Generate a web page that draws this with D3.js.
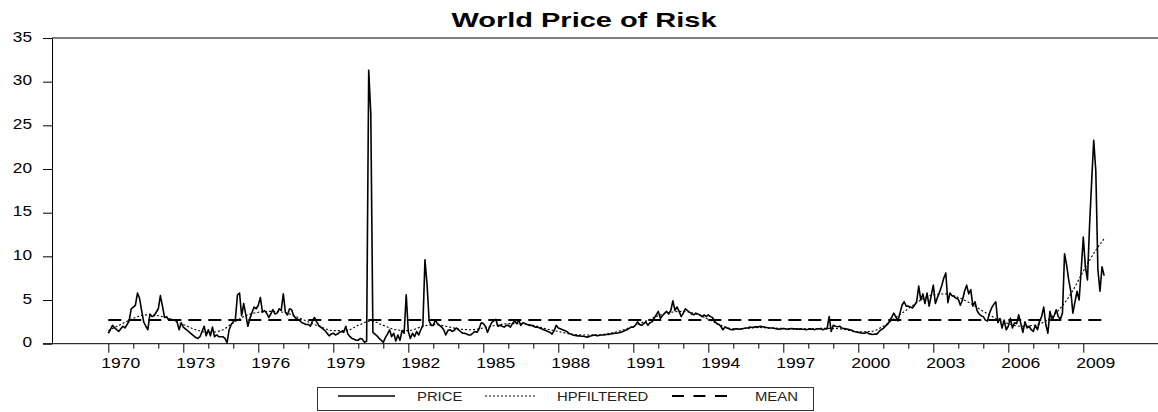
<!DOCTYPE html>
<meta charset="utf-8">
<style>
body { margin: 0; background: #fff; }
svg { display: block; font-family: "Liberation Sans", Arial, sans-serif; }
.axis path, .axis line { stroke: #000; stroke-width: 1; }
</style>
<body>
<script src="https://d3js.org/d3.v7.min.js"></script>
<script>

// monthly price of risk, Jan 1970 .. Nov 2009 (one row per year)
var startYear = 1970;
var price = [
  1.2, 1.6, 2.1, 1.8, 1.6, 1.4, 1.7, 2.0, 1.8, 2.2, 2.6, 4.0,        // 1970
  4.2, 4.4, 5.8, 5.2, 3.8, 2.5, 2.0, 1.6, 3.4, 3.1, 3.2, 3.6,        // 1971
  4.0, 5.5, 4.3, 3.0, 3.1, 2.7, 2.8, 2.7, 2.7, 2.5, 1.6, 2.4,        // 1972
  1.9, 1.7, 1.5, 1.3, 1.1, 0.9, 0.7, 0.6, 0.8, 1.4, 2.0, 0.9,        // 1973
  1.6, 0.9, 1.9, 0.8, 1.0, 0.8, 0.8, 0.8, 0.6, 0.1, 1.6, 2.2,        // 1974
  2.5, 2.8, 5.6, 5.8, 3.2, 4.6, 3.3, 2.0, 2.9, 3.6, 4.2, 4.0,        // 1975
  4.4, 5.3, 3.6, 3.8, 3.5, 3.0, 3.4, 3.9, 3.4, 3.5, 4.0, 3.8,        // 1976
  5.7, 3.6, 3.3, 4.0, 3.9, 3.2, 2.9, 2.8, 2.6, 2.4, 2.3, 2.2,        // 1977
  2.2, 2.0, 2.6, 3.0, 2.5, 2.1, 1.9, 1.7, 1.5, 1.2, 0.9, 1.1,        // 1978
  1.2, 1.0, 1.1, 1.3, 1.4, 1.3, 2.0, 1.1, 0.8, 0.6, 0.5, 0.4,        // 1979
  0.4, 0.6, 0.5, 0.15, 0.3, 31.3, 26.3, 1.3, 1.1, 0.9, 0.6, 0.4,     // 1980
  0.15, 0.7, 1.1, 1.6, 0.8, 1.2, 0.3, 1.0, 0.4, 1.5, 1.2, 5.6,       // 1981
  1.4, 0.6, 1.2, 0.8, 1.4, 1.0, 1.6, 2.1, 9.6, 6.8, 2.6, 2.1,        // 1982
  2.1, 2.7, 2.3, 2.1, 1.9, 1.6, 1.0, 1.5, 1.6, 1.4, 1.5, 1.8,        // 1983
  1.6, 1.4, 1.2, 1.2, 1.1, 1.0, 1.0, 1.2, 1.4, 1.3, 1.7, 2.4,        // 1984
  2.3, 2.0, 1.3, 1.9, 2.4, 2.6, 2.8, 2.0, 2.1, 2.0, 1.9, 2.1,        // 1985
  2.1, 1.9, 2.3, 2.6, 2.3, 2.7, 2.1, 2.4, 2.3, 2.2, 2.1, 2.1,        // 1986
  2.0, 1.9, 1.9, 1.8, 1.7, 1.6, 1.5, 1.4, 1.3, 1.1, 1.5, 2.1,        // 1987
  1.8, 1.7, 1.6, 1.5, 1.4, 1.2, 1.1, 1.0, 0.95, 0.9, 0.9, 0.85,      // 1988
  0.85, 0.8, 0.75, 0.85, 0.9, 1.0, 0.95, 0.9, 1.0, 1.0, 1.0, 1.05,   // 1989
  1.05, 1.1, 1.15, 1.2, 1.2, 1.25, 1.3, 1.4, 1.5, 1.6, 1.75, 1.9,    // 1990
  1.9, 2.1, 2.5, 2.2, 2.1, 2.3, 2.5, 2.1, 2.4, 2.5, 2.9, 3.3,        // 1991
  3.7, 2.9, 3.2, 3.5, 3.7, 3.4, 3.8, 4.9, 3.8, 4.2, 3.7, 3.1,        // 1992
  3.5, 4.0, 3.8, 3.6, 3.4, 3.3, 3.5, 3.4, 3.3, 3.1, 3.3, 3.1,        // 1993
  3.3, 3.1, 3.0, 2.6, 2.3, 2.2, 2.0, 1.6, 1.9, 1.8, 1.7, 1.6,        // 1994
  1.6, 1.7, 1.7, 1.65, 1.7, 1.75, 1.8, 1.8, 1.9, 1.85, 1.9, 1.95,    // 1995
  1.9, 2.0, 1.95, 1.9, 1.85, 1.8, 1.8, 1.8, 1.75, 1.7, 1.65, 1.7,    // 1996
  1.75, 1.7, 1.65, 1.7, 1.75, 1.7, 1.7, 1.65, 1.7, 1.65, 1.65, 1.6,  // 1997
  1.65, 1.7, 1.65, 1.6, 1.7, 1.7, 1.7, 1.6, 1.7, 1.7, 3.1, 1.4,      // 1998
  2.1, 2.0, 1.95, 2.0, 1.8, 1.75, 1.7, 1.65, 1.6, 1.5, 1.4, 1.35,    // 1999
  1.3, 1.25, 1.2, 1.2, 1.3, 1.15, 1.1, 1.05, 1.1, 1.1, 1.4, 1.6,     // 2000
  1.75, 2.0, 2.2, 2.6, 3.0, 3.5, 3.1, 2.6, 3.5, 4.4, 4.8, 4.3,       // 2001
  4.3, 4.2, 4.1, 4.4, 4.8, 6.6, 5.0, 5.7, 4.6, 5.8, 4.3, 5.5,        // 2002
  6.7, 4.6, 5.3, 5.9, 6.6, 7.5, 8.1, 4.7, 5.8, 5.5, 5.4, 5.2,        // 2003
  5.1, 4.4, 5.0, 6.0, 6.7, 5.7, 6.2, 4.3, 4.8, 3.8, 3.4, 3.2,        // 2004
  3.1, 2.7, 2.6, 3.5, 4.1, 4.5, 4.8, 2.4, 2.9, 1.8, 2.7, 1.6,        // 2005
  2.0, 2.9, 1.8, 2.4, 2.3, 3.3, 2.3, 1.3, 2.5, 1.8, 2.0, 1.6,        // 2006
  1.4, 2.1, 1.6, 2.6, 3.1, 4.2, 2.2, 1.2, 3.7, 2.7, 3.2, 3.9,        // 2007
  3.1, 2.8, 3.5, 10.3, 9.0, 7.3, 6.0, 3.5, 4.8, 6.0, 5.0, 8.5,       // 2008
  12.2, 8.8, 7.3, 13.5, 18.5, 23.3, 19.8, 8.5, 6.0, 8.8, 7.8         // 2009
];

// HP filtered trend, read every half year
var hpDates = [1970, 1970.5, 1971, 1971.5, 1972, 1972.5, 1973, 1973.5, 1974, 1974.5,
  1975, 1975.5, 1976, 1976.5, 1977, 1977.5, 1978, 1978.5, 1979, 1979.5,
  1980, 1980.5, 1981, 1981.5, 1982, 1982.5, 1983, 1983.5, 1984, 1984.5,
  1985, 1985.5, 1986, 1986.5, 1987, 1987.5, 1988, 1988.5, 1989, 1989.5,
  1990, 1990.5, 1991, 1991.5, 1992, 1992.5, 1993, 1993.5, 1994, 1994.5,
  1995, 1995.5, 1996, 1996.5, 1997, 1997.5, 1998, 1998.5, 1999, 1999.5,
  2000, 2000.5, 2001, 2001.5, 2002, 2002.5, 2003, 2003.5, 2004, 2004.5,
  2005, 2005.5, 2006, 2006.5, 2007, 2007.5, 2008, 2008.5, 2009, 2009.5, 2009.83];
var hpValues = [1.5, 2.2, 2.9, 3.3, 3.2, 2.8, 2.2, 1.6, 1.3, 1.5,
  2.4, 3.2, 3.6, 3.7, 3.6, 3.1, 2.5, 1.9, 1.5, 1.5,
  2.1, 2.6, 2.1, 1.6, 1.5, 1.9, 2.2, 2.0, 1.7, 1.6,
  1.8, 2.1, 2.3, 2.3, 2.1, 1.7, 1.4, 1.1, 1.0, 1.0,
  1.15, 1.5, 2.0, 2.6, 3.2, 3.6, 3.7, 3.4, 2.8, 2.1,
  1.7, 1.75, 1.85, 1.8, 1.75, 1.7, 1.7, 1.75, 1.75, 1.6,
  1.35, 1.4, 2.0, 3.0, 4.0, 5.0, 5.6, 5.7, 5.3, 4.6,
  3.7, 2.9, 2.3, 2.0, 2.1, 2.6, 3.8, 5.7, 8.3, 10.7, 12.0];

var meanValue = 2.7;
var yTicks = [0, 5, 10, 15, 20, 25, 30, 35];
var xLabelYears = [1970, 1973, 1976, 1979, 1982, 1985, 1988, 1991, 1994, 1997, 2000, 2003, 2006, 2009];
var legendNames = ["PRICE", "HPFILTERED", "MEAN"];

var width = 1158, height = 412;
var svg = d3.select("body").append("svg").attr("width", width).attr("height", height);

var x = d3.scaleLinear().domain([1970, 2010]).range([108.3, 1108.3]);
var y = d3.scaleLinear().domain([0, 35]).range([343.7, 38]);

var priceDates = price.map(function(d, i) { return startYear + i / 12; });

// stretched text, like the original export
function label(g, px, py, txt, anchor, size, sx, weight) {
  return g.append("text")
    .attr("transform", "translate(" + px + "," + py + ") scale(" + sx + ",1)")
    .attr("text-anchor", anchor)
    .style("font-size", size + "px")
    .style("font-weight", weight || "normal")
    .text(txt);
}

// title
svg.append("text")
    .attr("x", 584).attr("y", 27)
    .attr("text-anchor", "middle")
    .attr("textLength", 265).attr("lengthAdjust", "spacingAndGlyphs")
    .style("font-size", "21px").style("font-weight", "bold")
    .text("World Price of Risk");

// frame top
svg.append("line").attr("x1", 52).attr("x2", width).attr("y1", y(35)).attr("y2", y(35))
    .attr("stroke", "#000");

// y axis
var yAxis = svg.append("g").attr("class", "axis").attr("transform", "translate(52,0)")
    .call(d3.axisLeft(y).tickValues(yTicks).tickSize(9).tickSizeOuter(0).tickFormat(""));
yTicks.forEach(function(t) {
  label(svg, 32, y(t) + 3.7, t, "end", 15, 1.15);
});

// x axis
var xAxis = svg.append("g").attr("class", "axis").attr("transform", "translate(0," + y(0) + ")")
    .call(d3.axisBottom(x).tickValues(d3.range(1970, 2010)).tickSize(5).tickSizeOuter(0).tickFormat(""));
xAxis.select(".domain").remove();
xAxis.selectAll(".tick line").attr("y2", function(d) { return (d - 1970) % 3 === 0 ? 9 : 5; });
svg.append("line").attr("x1", 43).attr("x2", width).attr("y1", y(0)).attr("y2", y(0))
    .attr("stroke", "#000");
xLabelYears.forEach(function(yr) {
  label(svg, x(yr + 0.5), 367.5, yr, "middle", 15, 1.17);
});

// series
var meanLine = svg.append("line")
    .attr("x1", x(priceDates[0])).attr("x2", x(priceDates[priceDates.length - 1]))
    .attr("y1", y(meanValue)).attr("y2", y(meanValue))
    .attr("stroke", "#000").attr("stroke-width", 2).attr("stroke-dasharray", "13,7");

var hpLine = d3.line()
    .x(function(d, i) { return x(hpDates[i]); })
    .y(function(d) { return y(d); })
    .curve(d3.curveMonotoneX);
svg.append("path").datum(hpValues)
    .attr("d", hpLine)
    .attr("fill", "none").attr("stroke", "#000").attr("stroke-width", 1.1)
    .attr("stroke-dasharray", "2,2");

var priceLine = d3.line()
    .x(function(d, i) { return x(priceDates[i]); })
    .y(function(d) { return y(d); });
svg.append("path").datum(price)
    .attr("d", priceLine)
    .attr("fill", "none").attr("stroke", "#000").attr("stroke-width", 1.6)
    .attr("stroke-linejoin", "round");

// legend
var lg = svg.append("g");
lg.append("rect").attr("x", 317.5).attr("y", 387.5).attr("width", 496).attr("height", 23)
    .attr("fill", "#fff").attr("stroke", "#333");
var sampleY = 396;
lg.append("line").attr("x1", 338).attr("x2", 395).attr("y1", sampleY).attr("y2", sampleY)
    .attr("stroke", "#000").attr("stroke-width", 1.6);
lg.append("line").attr("x1", 485).attr("x2", 537).attr("y1", sampleY).attr("y2", sampleY)
    .attr("stroke", "#000").attr("stroke-width", 1.1).attr("stroke-dasharray", "2,2");
lg.append("line").attr("x1", 672).attr("x2", 727).attr("y1", sampleY).attr("y2", sampleY)
    .attr("stroke", "#000").attr("stroke-width", 2).attr("stroke-dasharray", "12,9.5");
var legendX = [417, 557, 755];
legendNames.forEach(function(n, i) {
  label(lg, legendX[i], 400.5, n, "start", 13.5, 1.1).style("fill", "#222");
});

</script>
</body>
